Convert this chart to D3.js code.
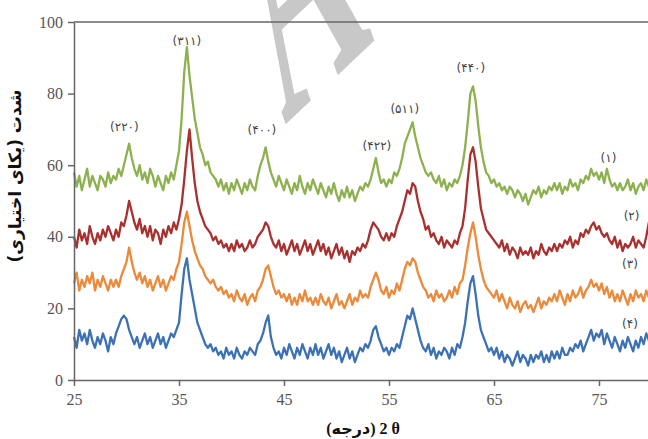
<!DOCTYPE html>
<html>
<head>
<meta charset="utf-8">
<script src="https://cdn.jsdelivr.net/npm/d3@7"></script>
<style>
  body { margin: 0; background: #fff; }
  svg { display: block; }
</style>
</head>
<body>
<svg id="chart" width="648" height="439"></svg>
<script>
// 2 theta sampling grid (degrees), one reading every 0.25 deg
var twoTheta = d3.range(25, 80.25, 0.25);

// intensity, 4 values per degree (25.00, 25.25, 25.50, 25.75 ...)
var intensity1 = [
  58,54,57,53, 56,59,54,57, 55,53,57,56, 54,58,55,57, 56,59,57,60,
  63,66,62,59, 57,60,56,58, 55,59,57,54, 57,55,53,57, 55,58,56,60,
  64,73,86,93, 85,79,73,69, 65,63,60,61, 58,57,56,54, 56,53,55,52,
  55,53,56,54, 52,55,53,56, 54,53,57,60, 62,65,61,58, 56,54,57,55,
  53,56,54,52, 55,53,57,54, 52,55,53,56, 54,52,55,53, 51,54,52,55,
  52,50,53,51, 54,51,53,50, 52,54,53,55, 54,56,59,62, 58,55,56,54,
  56,55,58,57, 59,62,66,68, 70,72,68,65, 62,60,58,57, 58,56,55,57,
  54,56,53,55, 54,56,55,57, 60,65,72,80, 82,78,71,65, 61,58,57,55,
  56,54,55,53, 54,52,54,53, 51,53,52,50, 52,49,51,53, 52,54,51,53,
  52,54,53,55, 53,55,52,54, 53,56,54,55, 53,56,55,57, 56,59,57,58,
  56,58,55,59, 56,54,55,53, 55,53,54,56, 53,55,52,54, 55,53,56,54,
  55
];
var intensity2 = [
  40,37,42,39, 41,38,43,40, 38,41,39,42, 40,43,41,39, 42,40,44,43,
  46,50,47,44, 42,45,41,43, 40,43,39,42, 41,38,42,40, 43,41,44,42,
  45,49,56,64, 70,62,55,50, 47,45,43,42, 41,39,40,38, 39,37,38,36,
  38,36,39,37, 38,36,37,39, 37,38,40,41, 42,44,43,40, 38,37,39,36,
  38,35,37,39, 36,38,35,37, 39,36,38,35, 37,39,36,38, 35,37,34,36,
  38,35,37,34, 36,33,36,35, 37,36,38,37, 39,42,44,43, 42,40,39,41,
  39,41,40,43, 45,47,50,53, 52,55,54,50, 47,45,42,43, 40,41,39,38,
  40,37,39,38, 37,39,38,41, 43,48,56,63, 65,61,54,48, 45,42,41,40,
  39,38,37,39, 36,38,35,37, 36,34,37,35, 36,35,37,34, 36,35,38,36,
  35,37,36,38, 36,38,37,39, 38,40,37,39, 38,41,40,42, 41,43,44,42,
  43,41,40,41, 39,38,40,37, 39,36,38,37, 38,40,37,39, 38,37,40,44,
  43
];
var intensity3 = [
  27,30,25,28, 26,29,27,30, 25,28,26,29, 27,25,28,26, 28,26,29,31,
  33,37,33,30, 28,30,27,29, 26,28,25,27, 29,26,28,25, 27,29,28,31,
  33,38,44,47, 43,39,36,34, 32,31,29,28, 27,28,26,25, 26,24,25,23,
  24,22,25,23, 22,24,21,23, 24,22,25,26, 28,31,32,29, 26,24,25,23,
  24,22,24,21, 23,21,24,22, 25,22,23,21, 23,21,24,22, 21,23,20,22,
  24,21,22,20, 22,24,21,23, 22,25,23,24, 23,26,28,30, 28,25,24,26,
  23,25,24,27, 25,28,31,33, 32,34,33,30, 28,26,25,23, 24,22,25,23,
  24,22,23,25, 23,26,24,27, 28,32,37,41, 44,40,35,31, 28,26,25,24,
  23,25,22,24, 22,20,23,21, 20,22,19,21, 22,20,21,19, 21,23,20,22,
  21,23,22,24, 22,25,23,21, 24,22,25,23, 24,26,23,25, 26,28,26,27,
  25,27,24,26, 23,25,22,24, 22,25,23,21, 24,22,25,23, 24,22,25,23,
  24
];
var intensity4 = [
  12,9,14,11, 13,10,14,11, 9,12,10,13, 11,8,12,10, 13,15,17,18,
  17,14,12,10, 12,9,11,13, 10,12,9,11, 13,10,12,9, 11,13,12,14,
  16,24,31,34, 28,24,20,16, 14,12,10,9, 10,8,9,7, 8,6,9,7,
  8,6,9,7, 6,8,7,9, 8,7,10,11, 13,16,18,12, 9,7,8,6,
  9,7,10,8, 6,9,7,10, 8,6,9,7, 10,7,9,6, 8,10,7,9,
  6,8,5,7, 9,6,8,5, 7,9,8,10, 9,11,14,15, 12,10,8,9,
  7,9,8,10, 9,12,15,18, 17,20,17,14, 11,9,8,10, 7,9,6,8,
  7,9,8,6, 9,7,10,9, 12,16,22,27, 29,24,18,14, 12,10,8,9,
  7,9,6,8, 5,7,6,4, 6,8,5,7, 6,4,7,5, 7,6,8,5,
  7,5,8,6, 8,6,9,7, 7,9,8,10, 9,11,8,10, 12,14,11,13,
  12,14,10,13, 11,9,12,10, 8,11,9,12, 10,8,11,9, 12,10,13,11,
  12
];

var seriesColor = ["#8db14f", "#a8312f", "#ea8a3a", "#3c72b5"];
var seriesName = ["(۱)", "(۲)", "(۳)", "(۴)"];
// where the sample names sit (2 theta, intensity)
var seriesLabelX = [75.9, 78.1, 77.95, 77.95];
var seriesLabelY = [61, 44.7, 31.3, 14.5];

var peakName = ["(۲۲۰)", "(۳۱۱)", "(۴۰۰)", "(۴۲۲)", "(۵۱۱)", "(۴۴۰)"];
var peakLabelX = [29.8, 35.75, 42.9, 53.85, 56.5, 62.8];
var peakLabelY = [69.5, 93.6, 68.7, 64.2, 74.6, 86];

var xTicks = [25, 35, 45, 55, 65, 75];
var yTicks = [0, 20, 40, 60, 80, 100];

var svg = d3.select("#chart");
var x = d3.scaleLinear().domain([25, 80]).range([74, 651.5]);
var y = d3.scaleLinear().domain([0, 100]).range([380, 22]);

// watermark letter (stretched and tilted like the scan's)
svg.append("text")
  .text("A")
  .attr("transform", "matrix(1.257,-1.186,1.19,3.39,284.5,125.4)")
  .attr("font-family", "Liberation Serif")
  .attr("font-weight", "bold")
  .attr("font-size", "100px")
  .attr("fill", "#c8c8c8");

var series = [intensity1, intensity2, intensity3, intensity4];
var line = d3.line()
  .x(function(d, i) { return x(twoTheta[i]); })
  .y(function(d) { return y(d); });

// bottom pattern first so the upper ones sit on top
for (var s = series.length - 1; s >= 0; s--) {
  svg.append("path")
    .datum(series[s])
    .attr("d", line)
    .attr("fill", "none")
    .attr("stroke", seriesColor[s])
    .attr("stroke-width", 2.3)
    .attr("stroke-linejoin", "round");
}

// axes
var yAxis = svg.append("g")
  .attr("transform", "translate(" + x(25) + ",0)")
  .call(d3.axisLeft(y).tickValues(yTicks).tickSize(6).tickSizeOuter(0).tickPadding(5));
var xAxis = svg.append("g")
  .attr("transform", "translate(0," + y(0) + ")")
  .call(d3.axisBottom(x).tickValues(xTicks).tickSize(6).tickSizeOuter(0).tickPadding(8));

[yAxis, xAxis].forEach(function(g) {
  g.select(".domain").attr("stroke", "#666").attr("stroke-width", 1.5);
  g.selectAll(".tick line").attr("stroke", "#666").attr("stroke-width", 1.5);
  g.selectAll(".tick text")
    .attr("font-family", "Liberation Serif")
    .attr("font-size", "16px")
    .attr("fill", "#555");
});

svg.append("line")
  .attr("x1", x(25)).attr("x2", x(80))
  .attr("y1", y(100)).attr("y2", y(100))
  .attr("stroke", "#666")
  .attr("stroke-width", 1.5);

// peak labels
svg.selectAll(".peak")
  .data(peakName)
  .enter().append("text")
  .attr("class", "peak")
  .attr("x", function(d, i) { return x(peakLabelX[i]); })
  .attr("y", function(d, i) { return y(peakLabelY[i]); })
  .attr("text-anchor", "middle")
  .attr("font-family", "DejaVu Sans")
  .attr("font-size", "12px")
  .attr("fill", "#444")
  .text(function(d) { return d; });

svg.selectAll(".sample")
  .data(seriesName)
  .enter().append("text")
  .attr("class", "sample")
  .attr("x", function(d, i) { return x(seriesLabelX[i]); })
  .attr("y", function(d, i) { return y(seriesLabelY[i]); })
  .attr("text-anchor", "middle")
  .attr("font-family", "DejaVu Sans")
  .attr("font-size", "12px")
  .attr("fill", "#444")
  .text(function(d) { return d; });

// axis titles
svg.append("text")
  .text("(درجه) 2 θ")
  .attr("x", 363)
  .attr("y", 434)
  .attr("text-anchor", "middle")
  .attr("direction", "ltr")
  .attr("font-family", "Liberation Serif, DejaVu Sans")
  .attr("font-weight", "bold")
  .attr("font-size", "16px")
  .attr("fill", "#111");

svg.append("text")
  .text("شدت (یکای اختیاری)")
  .attr("transform", "translate(21,176) rotate(-90)")
  .attr("direction", "rtl")
  .attr("text-anchor", "middle")
  .attr("font-family", "DejaVu Sans")
  .attr("font-weight", "bold")
  .attr("font-size", "17px")
  .attr("fill", "#111");
</script>
</body>
</html>
